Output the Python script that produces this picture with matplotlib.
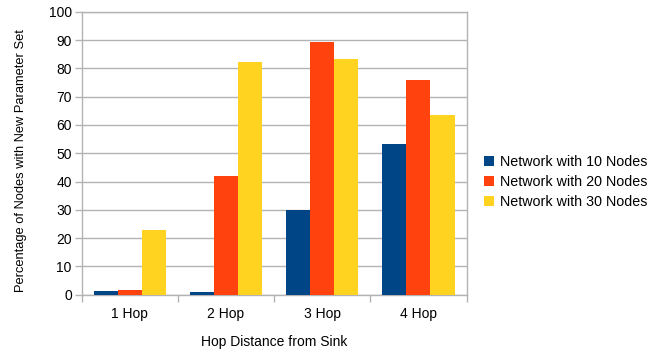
import matplotlib.pyplot as plt
import numpy as np

plt.rcParams['font.family'] = ['Liberation Sans', 'DejaVu Sans']

hops = ["1 Hop", "2 Hop", "3 Hop", "4 Hop"]
series_names = ["Network with 10 Nodes", "Network with 20 Nodes", "Network with 30 Nodes"]
nodes10 = [1.3, 1.0, 30.0, 53.2]
nodes20 = [1.7, 41.9, 89.2, 75.8]
nodes30 = [22.8, 82.2, 83.2, 63.4]
colors = ["#004586", "#ff420e", "#ffd320"]

fig = plt.figure(figsize=(6.66, 3.56), dpi=100)
ax = fig.add_axes([0.1225, 0.172, 0.578, 0.795])

x = np.arange(len(hops))
w = 0.25
for i, (vals, name) in enumerate(zip([nodes10, nodes20, nodes30], series_names)):
    ax.bar(x + (i - 1) * w, vals, w, color=colors[i], label=name, zorder=3)

ax.set_xlim(-0.5, len(hops) - 0.5)
ax.set_ylim(0, 100)
ax.set_yticks(range(0, 101, 10))
ax.yaxis.grid(True, color="#b3b3b3", linewidth=1)
ax.set_axisbelow(True)

# category labels centred, tick marks on the boundaries between groups
ax.set_xticks(x)
ax.set_xticklabels(hops)
ax.set_xticks(np.arange(-0.5, len(hops)), minor=True)
ax.tick_params(axis="x", which="major", length=0, pad=9, labelsize=10)
ax.tick_params(axis="x", which="minor", length=5, color="#b3b3b3", width=1)
ax.tick_params(axis="y", length=5, color="#b3b3b3", width=1, labelsize=10, pad=2)

for side in ["left", "bottom", "right", "top"]:
    ax.spines[side].set_color("#b3b3b3")
    ax.spines[side].set_linewidth(1)

ax.set_xlabel("Hop Distance from Sink", fontsize=10, labelpad=10)
ax.set_ylabel("Percentage of Nodes with New Parameter Set", fontsize=9.3)
ax.yaxis.set_label_coords(-0.142, 0.475)

ax.legend(loc="center left", bbox_to_anchor=(1.03, 0.398), frameon=False,
          fontsize=10.3, handlelength=0.7, handleheight=0.7, handletextpad=0.45,
          labelspacing=0.4, borderaxespad=0)

fig.savefig("out.png", dpi=100)
